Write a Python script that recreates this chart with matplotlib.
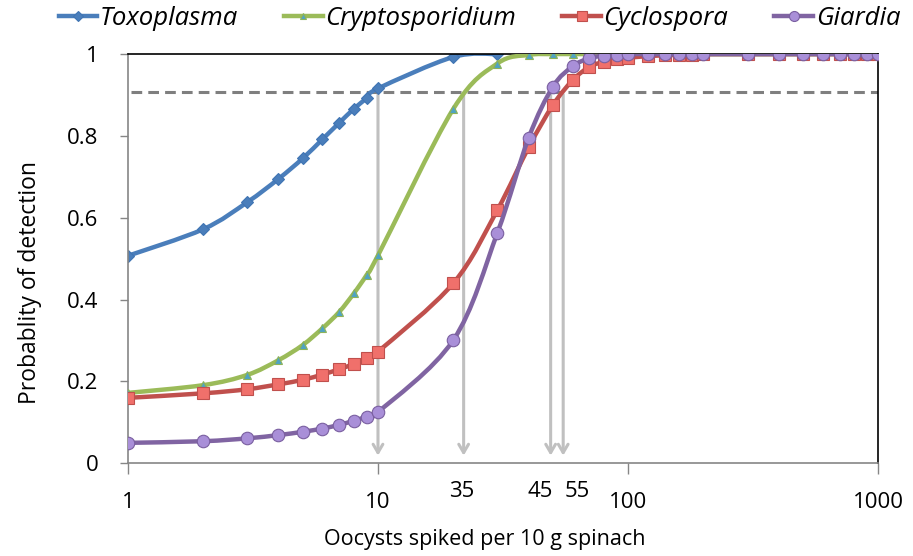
import numpy as np
import matplotlib
matplotlib.use("Agg")
import matplotlib.pyplot as plt
from matplotlib.path import Path
from matplotlib.patches import PathPatch
from matplotlib.lines import Line2D

plt.rcParams['font.family'] = ['Open Sans', 'DejaVu Sans']

# x values (oocysts per 10 g spinach)
x_all = [1, 2, 3, 4, 5, 6, 7, 8, 9, 10, 20, 30, 40, 50, 60, 70, 80, 90, 100,
         120, 140, 160, 180, 200, 300, 400, 500, 600, 700, 800, 900, 1000]
x_toxo = [1, 2, 3, 4, 5, 6, 7, 8, 9, 10, 20, 30]

toxo = [0.507, 0.572, 0.638, 0.695, 0.745, 0.792, 0.832, 0.866, 0.892, 0.916, 0.993, 1.0]
crypto = [0.172, 0.191, 0.216, 0.252, 0.289, 0.330, 0.370, 0.415, 0.460, 0.508, 0.866, 0.977,
          0.998, 1.0, 1.0, 1.0, 1.0, 1.0, 1.0, 1.0, 1.0, 1.0, 1.0, 1.0,
          1.0, 1.0, 1.0, 1.0, 1.0, 1.0, 1.0, 1.0]
cyclo = [0.160, 0.171, 0.181, 0.193, 0.204, 0.217, 0.230, 0.243, 0.258, 0.273, 0.440, 0.619,
         0.772, 0.875, 0.936, 0.969, 0.981, 0.987, 0.991, 0.995, 0.997, 0.998, 0.999, 1.0,
         1.0, 1.0, 1.0, 1.0, 1.0, 1.0, 1.0, 1.0]
giardia = [0.050, 0.054, 0.061, 0.069, 0.077, 0.085, 0.094, 0.104, 0.114, 0.125, 0.301, 0.563,
           0.795, 0.920, 0.970, 0.990, 0.996, 0.998, 1.0, 1.0, 1.0, 1.0, 1.0, 1.0,
           1.0, 1.0, 1.0, 1.0, 1.0, 1.0, 1.0, 1.0]

threshold = 0.908
arrow_x = [10, 22, 49, 55]
extra_labels = ['35', '45', '55']
extra_label_x = [21.7, 44.5, 62.4]
xticks = [1, 10, 100, 1000]
yticks = [0, 0.2, 0.4, 0.6, 0.8, 1.0]
ytick_labels = ['0', '0.2', '0.4', '0.6', '0.8', '1']


def smooth_path(xs, ys):
    # Excel-like smoothed line: cubic bezier in (log10 x, y)
    lx = np.log10(xs)
    y = np.asarray(ys, float)
    n = len(lx)
    verts = [(xs[0], y[0])]
    codes = [Path.MOVETO]
    for i in range(n - 1):
        i0 = max(i - 1, 0)
        i3 = min(i + 2, n - 1)
        c1 = (lx[i] + (lx[i + 1] - lx[i0]) / 6, y[i] + (y[i + 1] - y[i0]) / 6)
        c2 = (lx[i + 1] - (lx[i3] - lx[i]) / 6, y[i + 1] - (y[i3] - y[i]) / 6)
        verts += [(10 ** c1[0], c1[1]), (10 ** c2[0], c2[1]), (xs[i + 1], y[i + 1])]
        codes += [Path.CURVE4] * 3
    return Path(verts, codes)


fig = plt.figure(figsize=(9.13, 5.56), dpi=100)
ax = fig.add_axes([0.140, 0.1667, 0.822, 0.736])
ax.set_xscale('log')
ax.set_xlim(1, 1000)
ax.set_ylim(0, 1)

# threshold and arrows
ax.plot([1.03, 1000], [threshold, threshold], color='#7f7f7f', lw=2.2,
        dashes=(3.5, 2), zorder=1)
for xa in arrow_x:
    ax.annotate('', xy=(xa, 0.012), xytext=(xa, threshold),
                arrowprops=dict(arrowstyle='->,head_length=0.6,head_width=0.35',
                                color='#c0c0c0', lw=2.2), zorder=1)

series = [
    ('Toxoplasma', x_toxo, toxo, '#4a7ebb', 'D', 6, '#4a7ebb', '#3f74b3'),
    ('Cryptosporidium', x_all, crypto, '#9bbb59', '^', 6, '#4fa3c4', '#8db35a'),
    ('Cyclospora', x_all, cyclo, '#c0504d', 's', 9, '#f0706b', '#c0504d'),
    ('Giardia', x_all, giardia, '#8064a2', 'o', 9, '#a98fd8', '#7a5fa0'),
]

handles = []
for k, (name, xs, ys, col, mk, ms, mfc, mec) in enumerate(series):
    ax.add_patch(PathPatch(smooth_path(xs, ys), fill=False, edgecolor=col,
                           lw=3.2, zorder=2 + k, capstyle='round'))
    ax.plot(xs, ys, linestyle='none', marker=mk, ms=ms, mfc=mfc, mec=mec,
            mew=0.8, zorder=2 + k)
    handles.append(Line2D([], [], color=col, lw=3.2, marker=mk, ms=ms * 0.8,
                          mfc=mfc, mec=mec, mew=0.8, label=name))

ax.set_xticks(xticks)
ax.set_xticklabels([str(v) for v in xticks])
ax.xaxis.set_minor_locator(matplotlib.ticker.NullLocator())
ax.set_yticks(yticks)
ax.set_yticklabels(ytick_labels)
ax.tick_params(axis='x', direction='out', length=8, width=1, color='#868686',
               labelsize=16, pad=13)
ax.tick_params(axis='y', direction='out', length=6, width=1, color='#868686',
               labelsize=16, pad=15)

for lab, lx in zip(extra_labels, extra_label_x):
    ax.text(lx, -0.068, lab, ha='center', va='center', fontsize=16,
            transform=ax.get_xaxis_transform())

for s in ['left', 'bottom']:
    ax.spines[s].set_color('#868686')
    ax.spines[s].set_linewidth(1.2)
for s in ['top', 'right']:
    ax.spines[s].set_color('#000000')
    ax.spines[s].set_linewidth(1.2)

ax.set_xlabel('Oocysts spiked per 10 g spinach', fontsize=15.5)
ax.xaxis.set_label_coords(0.476, -0.185)
ax.xaxis.label.set_verticalalignment('center')
ax.set_ylabel('Probablity of detection', fontsize=16.5)
ax.yaxis.set_label_coords(-0.13, 0.443)
ax.yaxis.label.set_verticalalignment('center')

fig.legend(handles=handles, loc='center', bbox_to_anchor=(0.525, 0.967), ncol=4,
           frameon=False, handlelength=1.5, handletextpad=0.1, columnspacing=1.8,
           prop={'style': 'italic', 'size': 18.5})

fig.savefig('out.png', dpi=100)
